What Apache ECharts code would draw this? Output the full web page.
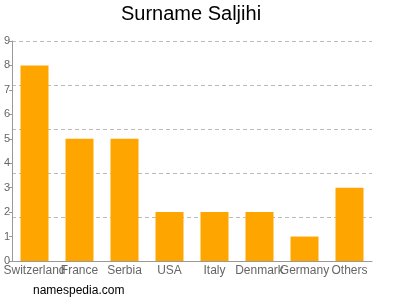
<!DOCTYPE html>
<html><head><meta charset="utf-8">
<script src="https://cdn.jsdelivr.net/npm/echarts@6/dist/echarts.min.js"></script>
<style>html,body{margin:0;padding:0;background:#fff}#c{width:400px;height:300px}</style>
</head><body><div id="c"></div>
<script>
const categories = ["Switzerland","France","Serbia","USA","Italy","Denmark","Germany","Others"];
const values = [8,5,5,2,2,2,1,3];
const yTicks = [0,1,2,3,4,5,6,7,8,9];
const chart = echarts.init(document.getElementById('c'), null, {renderer:'canvas'});
chart.setOption({
  animation:false,
  title:[{text:"Surname Saljihi",left:121,top:4,padding:0,textStyle:{fontFamily:'Liberation Sans, Arial',fontSize:20,fontWeight:'normal',color:'#000'}},
         {text:"namespedia.com",left:33,top:285,padding:0,textStyle:{fontFamily:'Liberation Sans, Arial',fontSize:12,fontWeight:'normal',color:'#000'}}],
  grid:{left:12,right:28,top:41,bottom:39,containLabel:false},
  xAxis:{type:'category',data:categories,
    axisLine:{lineStyle:{color:'#999'}},axisTick:{show:false},
    axisLabel:{color:'#666',fontFamily:'Liberation Sans, Arial',fontSize:12,interval:0,margin:4}},
  yAxis:[{type:'value',min:0,max:9,interval:1,
    axisLine:{show:true,lineStyle:{color:'#999'}},axisTick:{show:true,length:3,lineStyle:{color:'#999'}},
    axisLabel:{color:'#666',fontFamily:'Liberation Sans, Arial',fontSize:11,margin:2,
      formatter:v=>yTicks.includes(v)?String(v):''},
    splitLine:{show:false}},
    {type:'value',min:0,max:9,interval:1.8,position:'left',
    axisLine:{show:false},axisTick:{show:false},axisLabel:{show:false},
    splitLine:{show:true,lineStyle:{color:'#bbb',type:[4,3]}}}],
  series:[{type:'bar',data:values,yAxisIndex:0,barWidth:28,itemStyle:{color:'#ffa500'}}]
});
</script></body></html>
